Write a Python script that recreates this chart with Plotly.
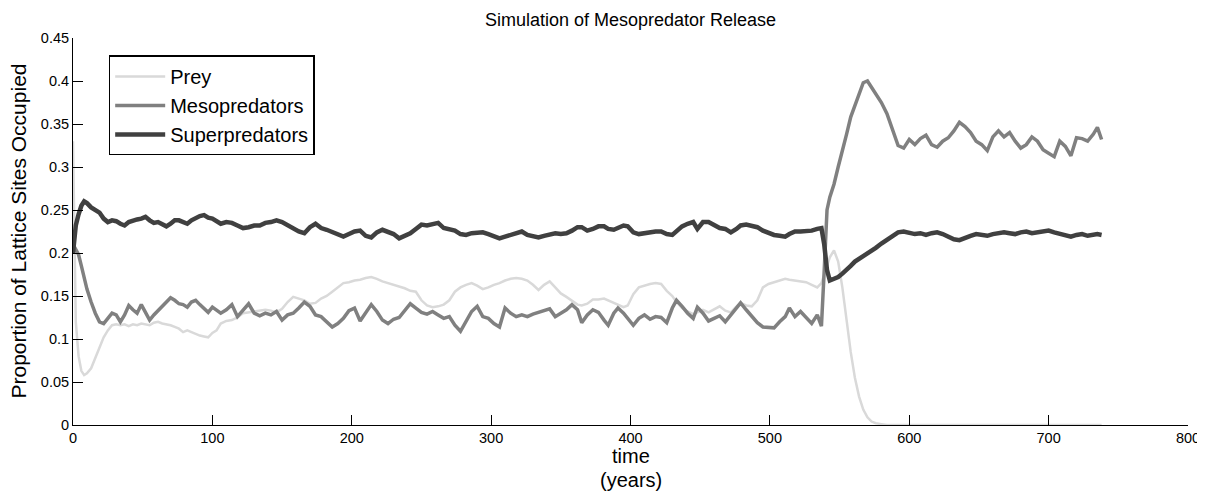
import plotly.graph_objects as go

time = [0, 1, 2, 4, 6, 8, 10, 13, 16, 19, 22, 25, 28, 31, 34, 37, 40, 43, 46, 49,
        52, 55, 58, 61, 64, 67, 70, 73, 76, 79, 82, 85, 88, 91, 94, 97, 100, 103, 106, 110,
        114, 118, 122, 126, 130, 134, 138, 142, 146, 150, 154, 158, 162, 166, 170, 174, 178, 182, 186, 190,
        194, 198, 202, 206, 210, 214, 218, 222, 226, 230, 234, 238, 242, 246, 250, 254, 258, 262, 266, 270,
        274, 278, 282, 286, 290, 294, 298, 302, 306, 310, 314, 318, 322, 326, 330, 334, 338, 342, 346, 350,
        354, 358, 362, 365, 369, 373, 377, 381, 384, 388, 391, 395, 398, 402, 406, 410, 414, 418, 422, 426,
        430, 433, 437, 441, 445, 448, 452, 456, 460, 464, 468, 472, 476, 479, 483, 487, 491, 495, 499, 503,
        507, 511, 514, 518, 522, 526, 530, 534, 537, 539, 541, 543, 546, 549, 552, 555, 558, 561, 564, 567,
        570, 573, 576, 580, 584, 588, 592, 596, 600, 604, 608, 612, 616, 620, 624, 628, 632, 636, 640, 644,
        648, 652, 656, 660, 664, 668, 672, 676, 680, 684, 688, 692, 696, 700, 704, 708, 712, 716, 720, 724,
        728, 732, 735, 738]

prey = [0.330, 0.200, 0.120, 0.080, 0.063, 0.058, 0.060, 0.066, 0.078, 0.090, 0.102, 0.110, 0.116, 0.117, 0.116, 0.117, 0.115, 0.117, 0.116, 0.118,
        0.117, 0.116, 0.119, 0.120, 0.118, 0.117, 0.116, 0.114, 0.112, 0.108, 0.110, 0.108, 0.106, 0.104, 0.103, 0.102, 0.107, 0.110, 0.118, 0.121,
        0.122, 0.125, 0.130, 0.131, 0.132, 0.133, 0.134, 0.133, 0.131, 0.135, 0.143, 0.149, 0.147, 0.145, 0.141, 0.142, 0.147, 0.150, 0.155, 0.160,
        0.165, 0.166, 0.168, 0.169, 0.171, 0.172, 0.170, 0.167, 0.165, 0.163, 0.161, 0.159, 0.156, 0.155, 0.145, 0.139, 0.137, 0.138, 0.140, 0.145,
        0.155, 0.160, 0.163, 0.165, 0.162, 0.158, 0.160, 0.163, 0.165, 0.168, 0.170, 0.171, 0.170, 0.168, 0.163, 0.157, 0.163, 0.167, 0.160, 0.153,
        0.149, 0.144, 0.140, 0.139, 0.141, 0.146, 0.146, 0.147, 0.145, 0.142, 0.140, 0.137, 0.139, 0.152, 0.160, 0.162, 0.164, 0.165, 0.164, 0.156,
        0.150, 0.143, 0.136, 0.132, 0.129, 0.131, 0.134, 0.131, 0.135, 0.138, 0.133, 0.131, 0.138, 0.142, 0.139, 0.138, 0.145, 0.160, 0.164, 0.166,
        0.168, 0.170, 0.169, 0.168, 0.167, 0.166, 0.163, 0.160, 0.165, 0.175, 0.185, 0.195, 0.203, 0.190, 0.160, 0.120, 0.085, 0.055, 0.033, 0.018,
        0.009, 0.004, 0.002, 0.001, 0.000, 0.000, 0.000, 0.000, 0.000, 0.000, 0.000, 0.000, 0.000, 0.000, 0.000, 0.000, 0.000, 0.000, 0.000, 0.000,
        0.000, 0.000, 0.000, 0.000, 0.000, 0.000, 0.000, 0.000, 0.000, 0.000, 0.000, 0.000, 0.000, 0.000, 0.000, 0.000, 0.000, 0.000, 0.000, 0.000,
        0.000, 0.000, 0.000, 0.000]

meso = [0.210, 0.207, 0.203, 0.198, 0.185, 0.170, 0.158, 0.143, 0.130, 0.120, 0.118, 0.124, 0.130, 0.128, 0.120, 0.128, 0.139, 0.134, 0.130, 0.140,
        0.130, 0.122, 0.128, 0.133, 0.138, 0.143, 0.148, 0.145, 0.141, 0.140, 0.137, 0.143, 0.145, 0.140, 0.136, 0.131, 0.137, 0.134, 0.130, 0.134,
        0.140, 0.126, 0.134, 0.141, 0.130, 0.127, 0.130, 0.128, 0.132, 0.122, 0.128, 0.130, 0.136, 0.143, 0.138, 0.128, 0.126, 0.120, 0.114, 0.118,
        0.124, 0.133, 0.136, 0.121, 0.130, 0.140, 0.132, 0.122, 0.118, 0.123, 0.125, 0.133, 0.141, 0.136, 0.131, 0.129, 0.132, 0.128, 0.124, 0.126,
        0.116, 0.109, 0.120, 0.132, 0.138, 0.126, 0.124, 0.118, 0.114, 0.136, 0.130, 0.126, 0.128, 0.126, 0.129, 0.131, 0.133, 0.135, 0.126, 0.130,
        0.134, 0.140, 0.134, 0.119, 0.128, 0.134, 0.131, 0.122, 0.116, 0.130, 0.136, 0.130, 0.124, 0.116, 0.124, 0.128, 0.123, 0.126, 0.125, 0.119,
        0.136, 0.145, 0.138, 0.130, 0.124, 0.137, 0.130, 0.121, 0.124, 0.127, 0.120, 0.128, 0.136, 0.142, 0.134, 0.126, 0.119, 0.114, 0.113, 0.113,
        0.120, 0.126, 0.136, 0.126, 0.132, 0.125, 0.118, 0.128, 0.115, 0.180, 0.250, 0.265, 0.280, 0.300, 0.318, 0.338, 0.358, 0.372, 0.385, 0.398,
        0.400, 0.392, 0.384, 0.375, 0.362, 0.342, 0.325, 0.322, 0.332, 0.326, 0.333, 0.337, 0.326, 0.323, 0.330, 0.334, 0.342, 0.352, 0.347, 0.340,
        0.330, 0.326, 0.319, 0.335, 0.342, 0.335, 0.340, 0.330, 0.322, 0.326, 0.335, 0.330, 0.320, 0.316, 0.312, 0.330, 0.324, 0.313, 0.334, 0.333,
        0.330, 0.338, 0.346, 0.332]

superp = [0.200, 0.215, 0.232, 0.245, 0.255, 0.260, 0.258, 0.253, 0.250, 0.247, 0.240, 0.236, 0.238, 0.237, 0.234, 0.232, 0.236, 0.238, 0.239, 0.240,
          0.242, 0.238, 0.235, 0.236, 0.233, 0.231, 0.234, 0.238, 0.238, 0.236, 0.234, 0.238, 0.241, 0.243, 0.244, 0.241, 0.240, 0.237, 0.234, 0.236,
          0.235, 0.232, 0.229, 0.230, 0.232, 0.232, 0.235, 0.236, 0.238, 0.236, 0.232, 0.228, 0.225, 0.223, 0.230, 0.234, 0.229, 0.227, 0.224, 0.221,
          0.219, 0.222, 0.225, 0.226, 0.220, 0.218, 0.224, 0.227, 0.224, 0.222, 0.217, 0.220, 0.223, 0.228, 0.233, 0.232, 0.234, 0.235, 0.229, 0.228,
          0.226, 0.222, 0.221, 0.223, 0.223, 0.224, 0.222, 0.220, 0.217, 0.219, 0.221, 0.224, 0.225, 0.221, 0.219, 0.218, 0.220, 0.222, 0.223, 0.222,
          0.223, 0.226, 0.230, 0.230, 0.226, 0.228, 0.231, 0.231, 0.228, 0.227, 0.229, 0.232, 0.231, 0.224, 0.222, 0.223, 0.225, 0.225, 0.225, 0.222,
          0.221, 0.226, 0.231, 0.234, 0.236, 0.228, 0.236, 0.236, 0.232, 0.229, 0.228, 0.224, 0.228, 0.232, 0.233, 0.232, 0.230, 0.226, 0.223, 0.221,
          0.220, 0.219, 0.222, 0.225, 0.225, 0.225, 0.226, 0.228, 0.229, 0.210, 0.180, 0.168, 0.170, 0.172, 0.176, 0.180, 0.185, 0.190, 0.193, 0.196,
          0.200, 0.203, 0.206, 0.211, 0.215, 0.220, 0.224, 0.225, 0.224, 0.222, 0.223, 0.221, 0.223, 0.224, 0.222, 0.219, 0.216, 0.215, 0.218, 0.220,
          0.222, 0.221, 0.220, 0.222, 0.223, 0.224, 0.223, 0.222, 0.224, 0.225, 0.223, 0.224, 0.226, 0.226, 0.224, 0.222, 0.221, 0.219, 0.221, 0.222,
          0.220, 0.221, 0.222, 0.221]

series_names = ["Prey", "Mesopredators", "Superpredators"]

x_ticks = [0, 100, 200, 300, 400, 500, 600, 700, 800]
y_ticks = [0, 0.05, 0.1, 0.15, 0.2, 0.25, 0.3, 0.35, 0.4, 0.45]
y_tick_labels = ["0", "0.05", "0.1", "0.15", "0.2", "0.25", "0.3", "0.35", "0.4", "0.45"]

FONT = "Liberation Sans, Arial, sans-serif"

fig = go.Figure()
fig.add_trace(go.Scatter(x=time, y=prey, mode="lines", name=series_names[0],
                         line=dict(color="#d9d9d9", width=2.5)))
fig.add_trace(go.Scatter(x=time, y=meso, mode="lines", name=series_names[1],
                         line=dict(color="#808080", width=3.5)))
fig.add_trace(go.Scatter(x=time, y=superp, mode="lines", name=series_names[2],
                         line=dict(color="#404040", width=4.5)))

# the page body adds an 8px offset; the figure is sized/margined so the plot
# area lands at the same window position as in the reference
fig.update_layout(
    width=1197, height=487,
    margin=dict(l=65, r=17, t=30, b=70, autoexpand=False),
    paper_bgcolor="white", plot_bgcolor="white",
    font=dict(family=FONT, color="black", size=14.5),
    title=dict(text="Simulation of Mesopredator Release", x=0.5, xref="paper", xanchor="center",
               y=1 - 12 / 487, yref="container", yanchor="middle",
               font=dict(family=FONT, size=18, color="black")),
    showlegend=True,
    legend=dict(x=0.032, y=0.955, xanchor="left", yanchor="top",
                bgcolor="white", bordercolor="black", borderwidth=1.5,
                font=dict(family=FONT, size=20, color="black"),
                itemwidth=50, tracegroupgap=0),
    xaxis=dict(range=[0, 800], tickvals=x_ticks, ticks="inside", ticklen=10,
               tickcolor="black", showline=True, linecolor="black", linewidth=1,
               showgrid=False, zeroline=False, mirror=False, automargin=False,
               tickfont=dict(family=FONT, size=14.5)),
    yaxis=dict(range=[0, 0.45], tickvals=y_ticks, ticktext=y_tick_labels,
               ticks="inside", ticklen=10, tickcolor="black",
               showline=True, linecolor="black", linewidth=1,
               showgrid=False, zeroline=False, mirror=False, automargin=False,
               tickfont=dict(family=FONT, size=14.5)),
    annotations=[
        dict(text="time", x=0.5, y=-0.080, xref="paper", yref="paper",
             xanchor="center", yanchor="middle", showarrow=False,
             font=dict(family=FONT, size=20, color="black")),
        dict(text="(years)", x=0.5, y=-0.142, xref="paper", yref="paper",
             xanchor="center", yanchor="middle", showarrow=False,
             font=dict(family=FONT, size=20, color="black")),
        dict(text="Proportion of Lattice Sites Occupied", x=-0.0493, y=0.5,
             xref="paper", yref="paper", textangle=-90,
             xanchor="center", yanchor="middle", showarrow=False,
             font=dict(family=FONT, size=21, color="black")),
    ],
)

fig.write_html("out.html")
